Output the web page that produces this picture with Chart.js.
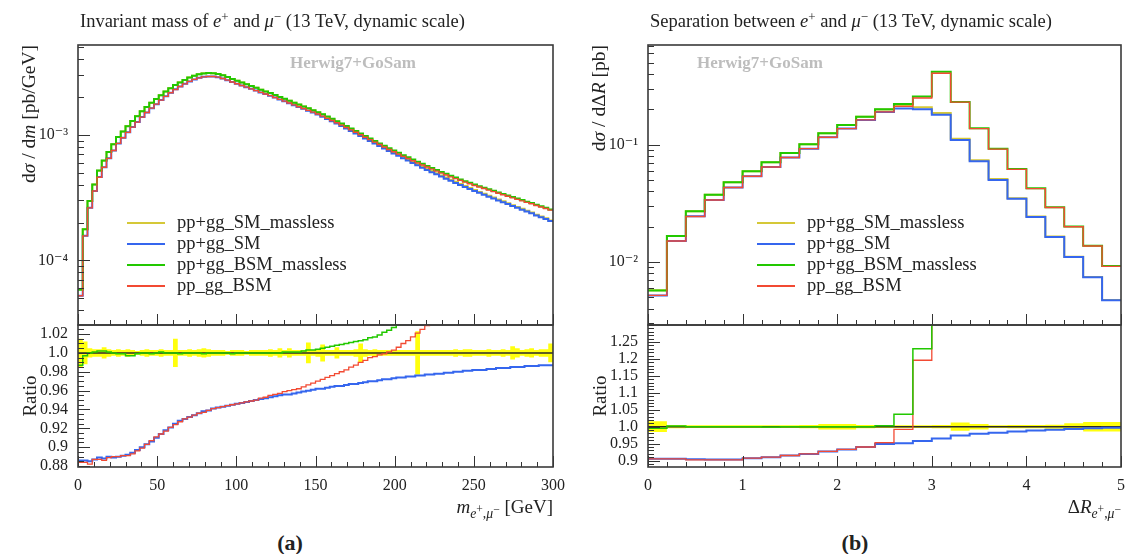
<!DOCTYPE html>
<html>
<head>
<meta charset="utf-8">
<title>Herwig7+GoSam: e+ mu- distributions</title>
<script src="https://cdn.jsdelivr.net/npm/chart.js"></script>
<style>
  body { margin: 0; width: 1131px; height: 554px; position: relative; overflow: hidden; background: #fff;
         font-family: "Liberation Serif", "DejaVu Serif", serif; color: #222; }
  canvas { position: absolute; }
  .txt { position: absolute; white-space: nowrap; font-size: 18.5px; line-height: 1; }
  sup { font-size: 0.7em; vertical-align: 0.5em; line-height: 0; }
  sub { font-size: 0.72em; vertical-align: -0.4em; line-height: 0; }
  sub sup { font-size: 0.85em; vertical-align: 0.45em; }
  .ytitle { font-size: 19.5px; transform-origin: 0 0; transform: rotate(-90deg) translate(-100%, -50%); }
  .ycenter { font-size: 19px; transform-origin: 0 0; transform: rotate(-90deg) translate(-50%, -50%); }
  .xtitle { font-size: 19px; }
  .brand { font-weight: bold; color: #bdbdbd; font-size: 17px; }
  .legend { position: absolute; font-size: 18.5px; }
  .legend div { height: 21px; display: flex; align-items: center; white-space: nowrap; }
  .legend span { display: inline-block; width: 38px; height: 2px; margin-right: 12px; }
  .cap { font-weight: bold; font-size: 22px; transform: translateX(-50%); }
</style>
</head>
<body>

<canvas id="massMain" width="565" height="327" style="left:0;top:0"></canvas>
<canvas id="massRatio" width="565" height="190" style="left:0;top:320px"></canvas>
<canvas id="drMain" width="561" height="327" style="left:570px;top:0"></canvas>
<canvas id="drRatio" width="561" height="190" style="left:570px;top:320px"></canvas>

<!-- titles -->
<div class="txt" style="left:80px;top:12px">Invariant mass of <i>e</i><sup>+</sup> and <i>μ</i><sup>−</sup> (13 TeV, dynamic scale)</div>
<div class="txt" style="left:650px;top:12px">Separation between <i>e</i><sup>+</sup> and <i>μ</i><sup>−</sup> (13 TeV, dynamic scale)</div>

<div class="txt brand" style="left:290px;top:54px">Herwig7+GoSam</div>
<div class="txt brand" style="left:697px;top:54px">Herwig7+GoSam</div>

<!-- axis titles -->
<div class="txt ytitle" style="left:29px;top:45px">d<i>σ</i> / d<i>m</i> [pb/GeV]</div>
<div class="txt ycenter" style="left:29px;top:396px">Ratio</div>
<div class="txt ytitle" style="left:599px;top:45px">d<i>σ</i> / dΔ<i>R</i> [pb]</div>
<div class="txt ycenter" style="left:599px;top:396px">Ratio</div>

<div class="txt xtitle" style="right:578px;top:497px"><i>m</i><sub><i>e</i><sup>+</sup>,<i>μ</i><sup>−</sup></sub> [GeV]</div>
<div class="txt xtitle" style="right:10px;top:497px">Δ<i>R</i><sub><i>e</i><sup>+</sup>,<i>μ</i><sup>−</sup></sub></div>

<div class="legend" id="legMass" style="left:127px;top:212px"></div>
<div class="legend" id="legDr" style="left:757px;top:212px"></div>

<div class="txt cap" style="left:290px;top:532px">(a)</div>
<div class="txt cap" style="left:855px;top:532px">(b)</div>

<script>
// ---- invariant mass m(e+,mu-) : 3 GeV bins ----
const massEdges = [0,3,6,9,12,15,18,21,24,27,30,33,36,39,42,45,48,51,54,57,60,63,66,69,72,75,78,81,84,87,
  90,93,96,99,102,105,108,111,114,117,120,123,126,129,132,135,138,141,144,147,150,153,156,159,162,165,168,171,174,177,
  180,183,186,189,192,195,198,201,204,207,210,213,216,219,222,225,228,231,234,237,240,243,246,249,252,255,258,261,264,267,
  270,273,276,279,282,285,288,291,294,297,300];

// reference: pp+gg_SM_massless [pb/GeV]
const massSMmassless = [
  5.9e-5, 1.77e-4, 2.97e-4, 4.02e-4, 5.18e-4, 6.22e-4, 7.30e-4, 8.42e-4, 9.60e-4, 1.065e-3,
  1.175e-3, 1.29e-3, 1.41e-3, 1.54e-3, 1.67e-3, 1.80e-3, 1.93e-3, 2.07e-3, 2.21e-3, 2.35e-3,
  2.49e-3, 2.62e-3, 2.74e-3, 2.86e-3, 2.96e-3, 3.04e-3, 3.09e-3, 3.11e-3, 3.10e-3, 3.06e-3,
  2.98e-3, 2.89e-3, 2.79e-3, 2.70e-3, 2.61e-3, 2.53e-3, 2.45e-3, 2.37e-3, 2.29e-3, 2.22e-3,
  2.15e-3, 2.075e-3, 2.003e-3, 1.934e-3, 1.867e-3, 1.802e-3, 1.740e-3, 1.680e-3, 1.622e-3, 1.566e-3,
  1.510e-3, 1.450e-3, 1.390e-3, 1.332e-3, 1.275e-3, 1.219e-3, 1.164e-3, 1.112e-3, 1.061e-3, 1.012e-3,
  9.65e-4, 9.21e-4, 8.79e-4, 8.38e-4, 8.00e-4, 7.64e-4, 7.30e-4, 6.98e-4, 6.67e-4, 6.39e-4,
  6.11e-4, 5.85e-4, 5.61e-4, 5.38e-4, 5.16e-4, 4.95e-4, 4.75e-4, 4.57e-4, 4.39e-4, 4.22e-4,
  4.06e-4, 3.91e-4, 3.77e-4, 3.63e-4, 3.51e-4, 3.39e-4, 3.27e-4, 3.16e-4, 3.05e-4, 2.95e-4,
  2.85e-4, 2.75e-4, 2.66e-4, 2.57e-4, 2.48e-4, 2.40e-4, 2.31e-4, 2.23e-4, 2.16e-4, 2.08e-4];

// ratios to the reference (and the main panel where off-scale)
const massRatioSM = [
  0.886, 0.886, 0.885, 0.887, 0.889, 0.888, 0.890, 0.889, 0.890, 0.891,
  0.892, 0.894, 0.897, 0.900, 0.903, 0.906, 0.910, 0.914, 0.918, 0.921,
  0.925, 0.928, 0.930, 0.932, 0.934, 0.936, 0.938, 0.939, 0.941, 0.942,
  0.943, 0.944, 0.945, 0.946, 0.947, 0.948, 0.949, 0.950, 0.951, 0.952,
  0.953, 0.954, 0.955, 0.956, 0.956, 0.957, 0.958, 0.959, 0.960, 0.961,
  0.962, 0.962, 0.963, 0.964, 0.965, 0.965, 0.966, 0.967, 0.967, 0.968,
  0.969, 0.970, 0.970, 0.971, 0.972, 0.972, 0.973, 0.974, 0.974, 0.975,
  0.975, 0.976, 0.976, 0.977, 0.977, 0.978, 0.978, 0.979, 0.979, 0.980,
  0.980, 0.981, 0.981, 0.982, 0.982, 0.982, 0.983, 0.983, 0.984, 0.984,
  0.984, 0.985, 0.985, 0.985, 0.986, 0.986, 0.986, 0.987, 0.987, 0.987];

const massRatioBSMmassless = [
  0.987, 0.997, 1.000, 1.001, 1.002, 1.002, 1.001, 1.000, 0.999, 0.999,
  0.997, 0.997, 0.999, 1.000, 1.000, 0.999, 1.000, 1.001, 1.000, 1.000,
  1.000, 0.999, 1.000, 1.000, 1.000, 1.000, 0.999, 1.000, 1.000, 1.000,
  1.000, 1.000, 0.999, 1.000, 1.000, 1.000, 1.000, 1.000, 1.000, 1.000,
  1.000, 1.000, 1.000, 1.001, 1.001, 1.001, 1.001, 1.002, 1.003, 1.003,
  1.004, 1.005, 1.006, 1.007, 1.008, 1.009, 1.010, 1.011, 1.012, 1.013,
  1.014, 1.016, 1.017, 1.019, 1.022, 1.024, 1.027, 1.030, 1.033, 1.036,
  1.039, 1.043, 1.047, 1.051, 1.055, 1.059, 1.064, 1.069, 1.075, 1.081,
  1.087, 1.093, 1.099, 1.105, 1.111, 1.118, 1.125, 1.132, 1.139, 1.146,
  1.153, 1.160, 1.167, 1.175, 1.183, 1.191, 1.199, 1.207, 1.215, 1.223];

const massRatioBSM = [
  0.884, 0.884, 0.882, 0.887, 0.887, 0.886, 0.889, 0.890, 0.890, 0.891,
  0.891, 0.893, 0.896, 0.899, 0.903, 0.907, 0.911, 0.914, 0.917, 0.921,
  0.924, 0.927, 0.930, 0.932, 0.934, 0.936, 0.937, 0.939, 0.941, 0.942,
  0.943, 0.944, 0.945, 0.946, 0.947, 0.948, 0.949, 0.950, 0.952, 0.953,
  0.955, 0.956, 0.957, 0.959, 0.960, 0.961, 0.962, 0.964, 0.966, 0.968,
  0.970, 0.972, 0.974, 0.976, 0.978, 0.980, 0.982, 0.985, 0.987, 0.990,
  0.992, 0.995, 0.996, 0.998, 0.999, 1.001, 1.003, 1.006, 1.010, 1.013,
  1.017, 1.021, 1.025, 1.029, 1.033, 1.038, 1.043, 1.048, 1.054, 1.061,
  1.068, 1.074, 1.081, 1.088, 1.095, 1.102, 1.109, 1.116, 1.123, 1.130,
  1.137, 1.144, 1.151, 1.159, 1.167, 1.175, 1.183, 1.191, 1.199, 1.207];

// half width of the yellow reference uncertainty band
const massBand = [
  0.015, 0.012, 0.005, 0.004, 0.004, 0.006, 0.004, 0.003, 0.004, 0.003,
  0.004, 0.003, 0.002, 0.003, 0.004, 0.003, 0.003, 0.004, 0.003, 0.003,
  0.015, 0.003, 0.003, 0.004, 0.003, 0.004, 0.005, 0.004, 0.003, 0.003,
  0.003, 0.002, 0.003, 0.003, 0.003, 0.002, 0.003, 0.003, 0.003, 0.003,
  0.004, 0.003, 0.005, 0.003, 0.005, 0.003, 0.003, 0.003, 0.011, 0.003,
  0.004, 0.009, 0.003, 0.003, 0.006, 0.003, 0.003, 0.003, 0.004, 0.010,
  0.004, 0.003, 0.004, 0.003, 0.003, 0.003, 0.003, 0.003, 0.003, 0.003,
  0.003, 0.023, 0.003, 0.003, 0.003, 0.003, 0.003, 0.003, 0.003, 0.004,
  0.003, 0.004, 0.004, 0.003, 0.003, 0.003, 0.004, 0.003, 0.003, 0.004,
  0.003, 0.007, 0.005, 0.003, 0.004, 0.005, 0.003, 0.004, 0.004, 0.010];

// ---- separation dR(e+,mu-) : 0.2 bins ----
const drEdges = [0, 0.2, 0.4, 0.6, 0.8, 1.0, 1.2, 1.4, 1.6, 1.8, 2.0, 2.2, 2.4, 2.6, 2.8,
  3.0, 3.2, 3.4, 3.6, 3.8, 4.0, 4.2, 4.4, 4.6, 4.8, 5.0];
const drSMmassless = [5.73e-3, 1.665e-2, 2.71e-2, 3.74e-2, 4.78e-2, 5.93e-2, 7.10e-2, 8.50e-2, 0.1007, 0.125,
  0.147, 0.173, 0.200, 0.214, 0.209, 0.1865, 0.1125, 0.0737, 0.0509, 0.0350, 0.0244, 0.01645, 0.01108, 0.00744, 0.00473];
const drRatioSM = [0.905, 0.905, 0.904, 0.903, 0.903, 0.907, 0.910, 0.915, 0.919, 0.927, 0.933, 0.940, 0.949,
  0.951, 0.958, 0.965, 0.974, 0.979, 0.982, 0.986, 0.989, 0.991, 0.993, 0.995, 0.997];
const drRatioBSMmassless = [0.995, 1.002, 1.000, 1.000, 1.000, 1.000, 0.999, 1.000, 1.000, 1.000, 1.000, 1.000, 1.003,
  1.037, 1.230, 2.24, 2.06, 1.87, 1.81, 1.77, 1.74, 1.78, 1.81, 1.85, 1.95];
const drRatioBSM = [0.905, 0.905, 0.902, 0.902, 0.902, 0.907, 0.910, 0.915, 0.920, 0.927, 0.933, 0.940, 0.953,
  0.992, 1.196, 2.18, 2.05, 1.86, 1.80, 1.76, 1.73, 1.77, 1.80, 1.84, 1.94];
const drBand = [0.016, 0.005, 0.004, 0.004, 0.004, 0.004, 0.004, 0.004, 0.005, 0.008, 0.008, 0.005, 0.004,
  0.004, 0.004, 0.005, 0.012, 0.008, 0.004, 0.005, 0.005, 0.006, 0.010, 0.014, 0.014];

// ---- axes ----
const massTicks = [0, 50, 100, 150, 200, 250, 300];
const drTicks = [0, 1, 2, 3, 4, 5];
const massRatioTicks = [0.88, 0.90, 0.92, 0.94, 0.96, 0.98, 1.00, 1.02];
const drRatioTicks = [0.90, 0.95, 1.00, 1.05, 1.10, 1.15, 1.20, 1.25];

const seriesNames = ['pp+gg_SM_massless', 'pp+gg_SM', 'pp+gg_BSM_massless', 'pp_gg_BSM'];
const seriesColors = ['#d5c838', '#3566ee', '#22c800', '#f24a33'];

Chart.defaults.font.family = '"Liberation Serif", "DejaVu Serif", serif';
Chart.defaults.font.size = 16;
Chart.defaults.color = '#222';

function steps(edges, vals) {
  const pts = vals.map((v, i) => ({ x: edges[i], y: v }));
  pts.push({ x: edges[edges.length - 1], y: vals[vals.length - 1] });
  return pts;
}
const times = (a, b) => a.map((v, i) => v * b[i]);

function histLine(data, color, width, order) {
  return { data, borderColor: color, borderWidth: width, stepped: true, pointRadius: 0,
           fill: false, order, borderJoinStyle: 'miter', borderCapStyle: 'butt' };
}

function range(min, max, step) {
  const out = [];
  for (let n = Math.ceil(min / step - 1e-6); n * step <= max + 1e-9; n++) out.push(+(n * step).toFixed(6));
  return out;
}
function logMinor(min, max) {
  const out = [];
  for (let d = Math.floor(Math.log10(min)); d <= Math.ceil(Math.log10(max)); d++) {
    for (let k = 2; k <= 9; k++) {
      const v = k * Math.pow(10, d);
      if (v >= min && v <= max) out.push(v);
    }
  }
  return out;
}
function logMajor(min, max) {
  const out = [];
  for (let d = Math.ceil(Math.log10(min)); d <= Math.floor(Math.log10(max)); d++) out.push(Math.pow(10, d));
  return out;
}

const SUP = { '-': '⁻', '0': '⁰', '1': '¹', '2': '²', '3': '³', '4': '⁴', '5': '⁵', '6': '⁶', '7': '⁷', '8': '⁸', '9': '⁹' };
const decadeLabel = (v) => '10' + String(Math.round(Math.log10(v))).split('').map(c => SUP[c]).join('');
const ratioLabel = (v) => { let s = (+v).toFixed(2); if (s.endsWith('0')) s = s.slice(0, -1); return s; };

// inward tick marks + frame, positions from the chart's own scales
function frameTicks(cfg) {
  return {
    id: 'frameTicks',
    afterDatasetsDraw(chart) {
      const { ctx, chartArea: a, scales } = chart;
      ctx.save();
      ctx.strokeStyle = '#333';
      ctx.lineWidth = 1;
      const seg = (x1, y1, x2, y2) => { ctx.beginPath(); ctx.moveTo(x1, y1); ctx.lineTo(x2, y2); ctx.stroke(); };
      const xs = scales.x, ys = scales.y;
      cfg.xMajor.forEach(v => { const p = Math.round(xs.getPixelForValue(v)) + 0.5; seg(p, a.bottom, p, a.bottom - cfg.xLen[0]); });
      cfg.xMinor.forEach(v => { const p = Math.round(xs.getPixelForValue(v)) + 0.5; seg(p, a.bottom, p, a.bottom - cfg.xLen[1]); });
      cfg.yMajor.forEach(v => { const p = Math.round(ys.getPixelForValue(v)) + 0.5; seg(a.left, p, a.left + cfg.yLen[0], p); });
      cfg.yMinor.forEach(v => { const p = Math.round(ys.getPixelForValue(v)) + 0.5; seg(a.left, p, a.left + cfg.yLen[1], p); });
      ctx.strokeStyle = '#3a3a3a';
      ctx.lineWidth = 1.6;
      ctx.strokeRect(a.left, a.top, a.width, a.height);
      ctx.restore();
    }
  };
}

const fixY = (w) => (s) => { s.width = w; s.paddingTop = 0; s.paddingBottom = 0; };
const fixX = (h) => (s) => { s.height = h; s.paddingLeft = 0; s.paddingRight = 0; };

function mainChart(id, edges, ref, ratios, yMin, yMax, padRight, xMinorStep, xTicks) {
  const [rSM, rBSMml, rBSM] = ratios;
  const yMajor = logMajor(yMin, yMax);
  new Chart(document.getElementById(id), {
    type: 'line',
    data: {
      datasets: [
        histLine(steps(edges, times(ref, rBSM)), seriesColors[3], 1.4, 0),
        histLine(steps(edges, times(ref, rBSMml)), seriesColors[2], 2, 1),
        histLine(steps(edges, times(ref, rSM)), seriesColors[1], 2, 2),
        histLine(steps(edges, ref), seriesColors[0], 2, 3)
      ]
    },
    options: {
      responsive: false, animation: false, events: [],
      layout: { padding: { left: 0, top: 45, right: padRight, bottom: 2 }, autoPadding: false },
      plugins: { legend: { display: false }, tooltip: { enabled: false } },
      scales: {
        x: { type: 'linear', min: edges[0], max: edges[edges.length - 1], display: false },
        y: {
          type: 'logarithmic', min: yMin, max: yMax,
          afterFit: fixY(78),
          afterBuildTicks: (s) => { s.ticks = yMajor.map(v => ({ value: v })); },
          ticks: { callback: decadeLabel, padding: 10, autoSkip: false, font: { size: 16 } },
          grid: { display: false, drawTicks: false }, border: { display: false }
        }
      }
    },
    plugins: [frameTicks({
      xMajor: xTicks, xMinor: range(edges[0], edges[edges.length - 1], xMinorStep), xLen: [11, 5],
      yMajor, yMinor: logMinor(yMin, yMax), yLen: [12, 6]
    })]
  });
}

function ratioChart(id, edges, ratios, band, yMin, yMax, padRight, xTicks, xMinorStep, yTicks, yMinorStep) {
  const [rSM, rBSMml, rBSM] = ratios;
  new Chart(document.getElementById(id), {
    type: 'line',
    data: {
      datasets: [
        histLine(steps(edges, rBSMml), seriesColors[2], 1.5, 0),
        histLine(steps(edges, rBSM), seriesColors[3], 1.3, 1),
        histLine(steps(edges, rSM), seriesColors[1], 2, 2),
        { data: [{ x: edges[0], y: 1 }, { x: edges[edges.length - 1], y: 1 }], borderColor: '#2a2a2a',
          borderWidth: 1.5, pointRadius: 0, fill: false, order: 3 },
        { data: steps(edges, band.map(h => 1 + h)), borderWidth: 0, pointRadius: 0, stepped: true,
          fill: '+1', backgroundColor: 'rgba(255,255,0,0.95)', order: 4 },
        { data: steps(edges, band.map(h => 1 - h)), borderWidth: 0, pointRadius: 0, stepped: true,
          fill: false, order: 5 }
      ]
    },
    options: {
      responsive: false, animation: false, events: [],
      layout: { padding: { left: 0, top: 5, right: padRight, bottom: 0 }, autoPadding: false },
      plugins: { legend: { display: false }, tooltip: { enabled: false } },
      scales: {
        x: {
          type: 'linear', min: edges[0], max: edges[edges.length - 1],
          afterFit: fixX(43),
          afterBuildTicks: (s) => { s.ticks = xTicks.map(v => ({ value: v })); },
          ticks: { callback: (v) => String(v), padding: 9, maxRotation: 0, autoSkip: false, font: { size: 16 } },
          grid: { display: false, drawTicks: false }, border: { display: false }
        },
        y: {
          type: 'linear', min: yMin, max: yMax,
          afterFit: fixY(78),
          afterBuildTicks: (s) => { s.ticks = yTicks.map(v => ({ value: v })); },
          ticks: { callback: ratioLabel, padding: 10, autoSkip: false, font: { size: 16 } },
          grid: { display: false, drawTicks: false }, border: { display: false }
        }
      }
    },
    plugins: [frameTicks({
      xMajor: xTicks, xMinor: range(edges[0], edges[edges.length - 1], xMinorStep), xLen: [11, 5],
      yMajor: yTicks, yMinor: range(yMin, yMax, yMinorStep), yLen: [12, 6]
    })]
  });
}

function legend(id) {
  document.getElementById(id).innerHTML = seriesNames.map((n, i) =>
    `<div><span style="background:${seriesColors[i]}"></span>${n}</div>`).join('');
}

mainChart('massMain', massEdges, massSMmassless, [massRatioSM, massRatioBSMmassless, massRatioBSM],
  3.05e-5, 5.2e-3, 12, 10, massTicks);
ratioChart('massRatio', massEdges, [massRatioSM, massRatioBSMmassless, massRatioBSM], massBand,
  0.879, 1.0296, 12, massTicks, 10, massRatioTicks, 0.005);
mainChart('drMain', drEdges, drSMmassless, [drRatioSM, drRatioBSMmassless, drRatioBSM],
  2.9e-3, 0.708, 10, 0.2, drTicks);
ratioChart('drRatio', drEdges, [drRatioSM, drRatioBSMmassless, drRatioBSM], drBand,
  0.881, 1.30, 10, drTicks, 0.2, drRatioTicks, 0.01);
legend('legMass');
legend('legDr');
</script>
</body>
</html>
